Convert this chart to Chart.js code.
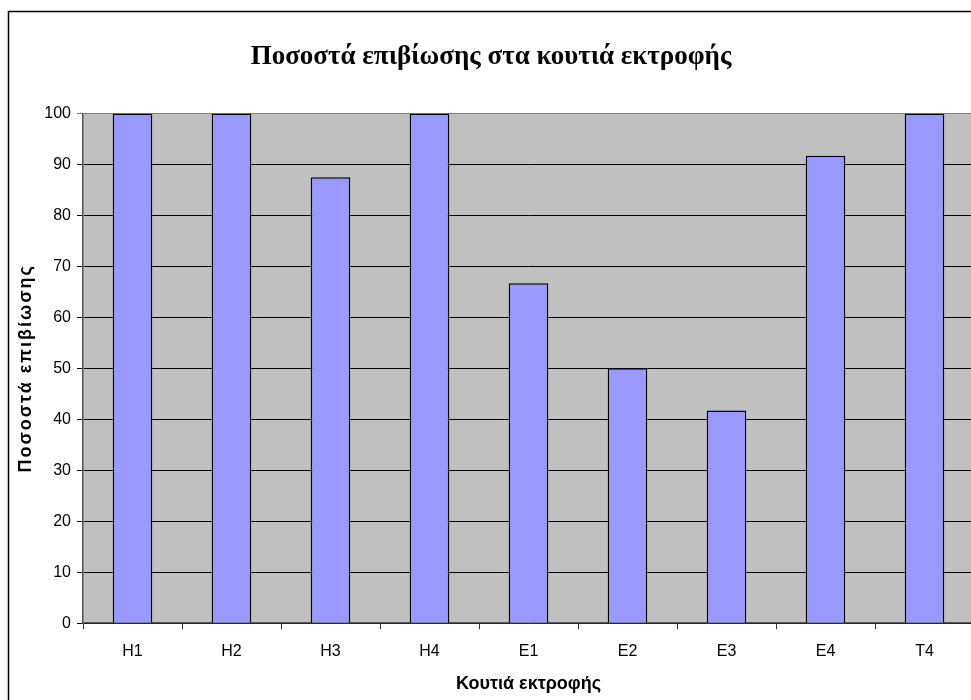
<!DOCTYPE html>
<html lang="el">
<head>
    <meta charset="UTF-8">
    <title>Ποσοστά επιβίωσης</title>
    <script src="https://cdn.jsdelivr.net/npm/chart.js@4.4.0/dist/chart.umd.min.js"></script>
    <style>
        body { margin: 0; overflow: hidden; background: #fff; }
        #wrap { position: absolute; left: 0; top: 0; width: 990px; height: 700px; }
    </style>
</head>
<body>
    <div id="wrap"><canvas id="chart" width="990" height="700"></canvas></div>
    <script>
        // valeurs
        const categories = ['H1', 'H2', 'H3', 'H4', 'E1', 'E2', 'E3', 'E4', 'T4'];
        const survival = [100, 100, 87.5, 100, 66.7, 50, 41.7, 91.7, 100];
        const yMin = 0, yMax = 100, yStep = 10;
        const yTitle = 'Ποσοστά επιβίωσης';

        const tickFont = { family: 'Liberation Sans', size: 16 };
        const axisTitleFont = { family: 'Liberation Sans', size: 18, weight: 'bold' };

        // fond gris + cadre + titre vertical (espacé)
        const plotBg = {
            id: 'plotBg',
            beforeDraw(chart) {
                const { ctx, chartArea: a } = chart;
                ctx.save();
                ctx.fillStyle = '#fff';
                ctx.fillRect(0, 0, chart.width, chart.height);
                ctx.fillStyle = '#C0C0C0';
                ctx.fillRect(a.left, a.top, a.right - a.left, a.bottom - a.top);
                ctx.strokeStyle = '#000';
                ctx.lineWidth = 1.5;
                ctx.beginPath();
                ctx.moveTo(8.5, chart.height + 10);
                ctx.lineTo(8.5, 11.5);
                ctx.lineTo(chart.width + 10, 11.5);
                ctx.stroke();

                ctx.translate(26, (a.top + a.bottom) / 2);
                ctx.rotate(-Math.PI / 2);
                ctx.font = 'bold 18px "Liberation Sans"';
                ctx.letterSpacing = '2px';
                ctx.fillStyle = '#000';
                ctx.textAlign = 'center';
                ctx.textBaseline = 'middle';
                ctx.fillText(yTitle, 0, 0);
                ctx.restore();
            }
        };

        new Chart(document.getElementById('chart'), {
            type: 'bar',
            data: {
                labels: categories,
                datasets: [{
                    data: survival,
                    backgroundColor: '#9999FF',
                    borderColor: '#000',
                    borderWidth: 1.5,
                    barPercentage: 0.4,
                    categoryPercentage: 1
                }]
            },
            options: {
                responsive: false,
                animation: false,
                layout: { padding: { left: 8, right: 16, top: 0, bottom: 5 } },
                plugins: {
                    legend: { display: false },
                    tooltip: { enabled: false },
                    title: {
                        display: true,
                        text: 'Ποσοστά επιβίωσης στα κουτιά εκτροφής',
                        color: '#000',
                        font: { family: 'Liberation Serif', size: 27, weight: 'bold' },
                        padding: { top: 41, bottom: 40 }
                    }
                },
                scales: {
                    x: {
                        grid: {
                            display: true,
                            drawOnChartArea: false,
                            drawTicks: true,
                            tickLength: 6,
                            color: '#333'
                        },
                        border: { color: '#555', width: 1.5 },
                        ticks: { color: '#000', font: tickFont, padding: 13 },
                        title: {
                            display: true,
                            text: 'Κουτιά εκτροφής',
                            color: '#000',
                            font: axisTitleFont,
                            padding: { top: -1, bottom: 0 }
                        }
                    },
                    y: {
                        min: yMin,
                        max: yMax,
                        afterFit(scale) { scale.width = 75; },
                        grid: {
                            color: ctx => (ctx.tick && ctx.tick.value === yMax) ? '#808080' : '#000',
                            lineWidth: 1,
                            tickLength: 6
                        },
                        border: { color: '#555', width: 1.5 },
                        ticks: { stepSize: yStep, color: '#000', font: tickFont, padding: 6 }
                    }
                }
            },
            plugins: [plotBg]
        });
    </script>
</body>
</html>
